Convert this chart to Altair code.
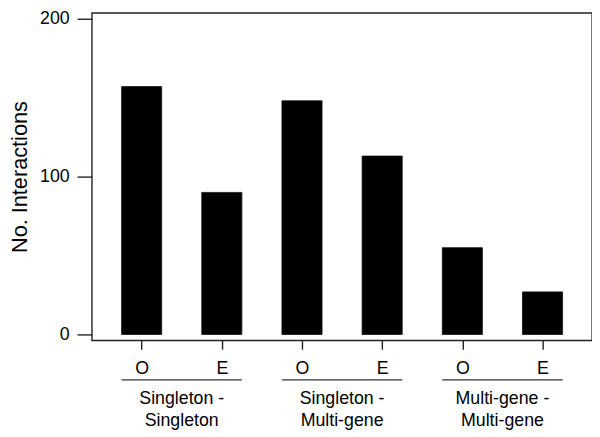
import json
import altair as alt
import pandas as pd

# ---- data ----
bar_labels = ["O", "E", "O", "E", "O", "E"]
bar_values = [157, 90, 148, 113, 55, 27]
bar_group = [0, 0, 1, 1, 2, 2]
group_names = ["Singleton -\nSingleton", "Singleton -\nMulti-gene", "Multi-gene -\nMulti-gene"]
y_ticks = [0, 100, 200]

FONT = "Liberation Sans"
W, H = 507, 332
HALF = 0.25  # half bar width in x units

bars = pd.DataFrame({
    "idx": list(range(1, len(bar_values) + 1)),
    "label": bar_labels,
    "value": bar_values,
    "group": bar_group,
})
grp = bars.groupby("group")["idx"].agg(["min", "max"]).reset_index()
grp["name"] = [group_names[g] for g in grp["group"]]
grp["start"] = grp["min"] - HALF
grp["end"] = grp["max"] + HALF
grp["mid"] = (grp["min"] + grp["max"]) / 2

xscale = alt.Scale(domain=[0.379, 6.617], nice=False, zero=False)
yscale = alt.Scale(domain=[-3.7, 203.7], nice=False, zero=False)

label_expr = json.dumps(bar_labels) + "[datum.value - 1]"

bar_layer = alt.Chart(bars).transform_calculate(
    x0="datum.idx - %f" % HALF, x1="datum.idx + %f" % HALF
).mark_bar(color="black", stroke="#111", strokeWidth=0.8).encode(
    x=alt.X("x0:Q", scale=xscale,
            axis=alt.Axis(values=list(range(1, 7)), labelExpr=label_expr, title=None,
                          grid=False, domain=False, tickSize=9, tickWidth=1.4,
                          tickColor="#222", labelFontSize=18, labelColor="black",
                          labelFont=FONT, labelPadding=11)),
    x2="x1:Q",
    y=alt.Y("value:Q", scale=yscale,
            axis=alt.Axis(values=y_ticks, title="No. Interactions", grid=False, domain=False,
                          tickSize=15, tickWidth=1.4, tickColor="#222",
                          labelFontSize=18, labelColor="black", labelFont=FONT,
                          labelPadding=8, titleFontSize=22, titleFont=FONT,
                          titleFontWeight="normal", titleColor="black", titlePadding=8)),
    y2=alt.datum(0),
)

rule_layer = alt.Chart(grp).mark_rule(color="#333", strokeWidth=1.3).encode(
    x=alt.X("start:Q", scale=xscale),
    x2="end:Q",
    y=alt.value(H + 40),
)

text_layer = alt.Chart(grp).mark_text(
    font=FONT, fontSize=18, color="black", lineBreak="\n", lineHeight=22,
    align="center", baseline="top",
).encode(
    x=alt.X("mid:Q", scale=xscale),
    y=alt.value(H + 51),
    text="name:N",
)

chart = alt.layer(bar_layer, rule_layer, text_layer).properties(
    width=W, height=H,
    padding={"left": 0, "top": -2, "right": 0, "bottom": 0},
).configure_view(stroke="#222", strokeWidth=1.4)

chart.save("out.html", embed_options={"renderer": "svg", "actions": False})
